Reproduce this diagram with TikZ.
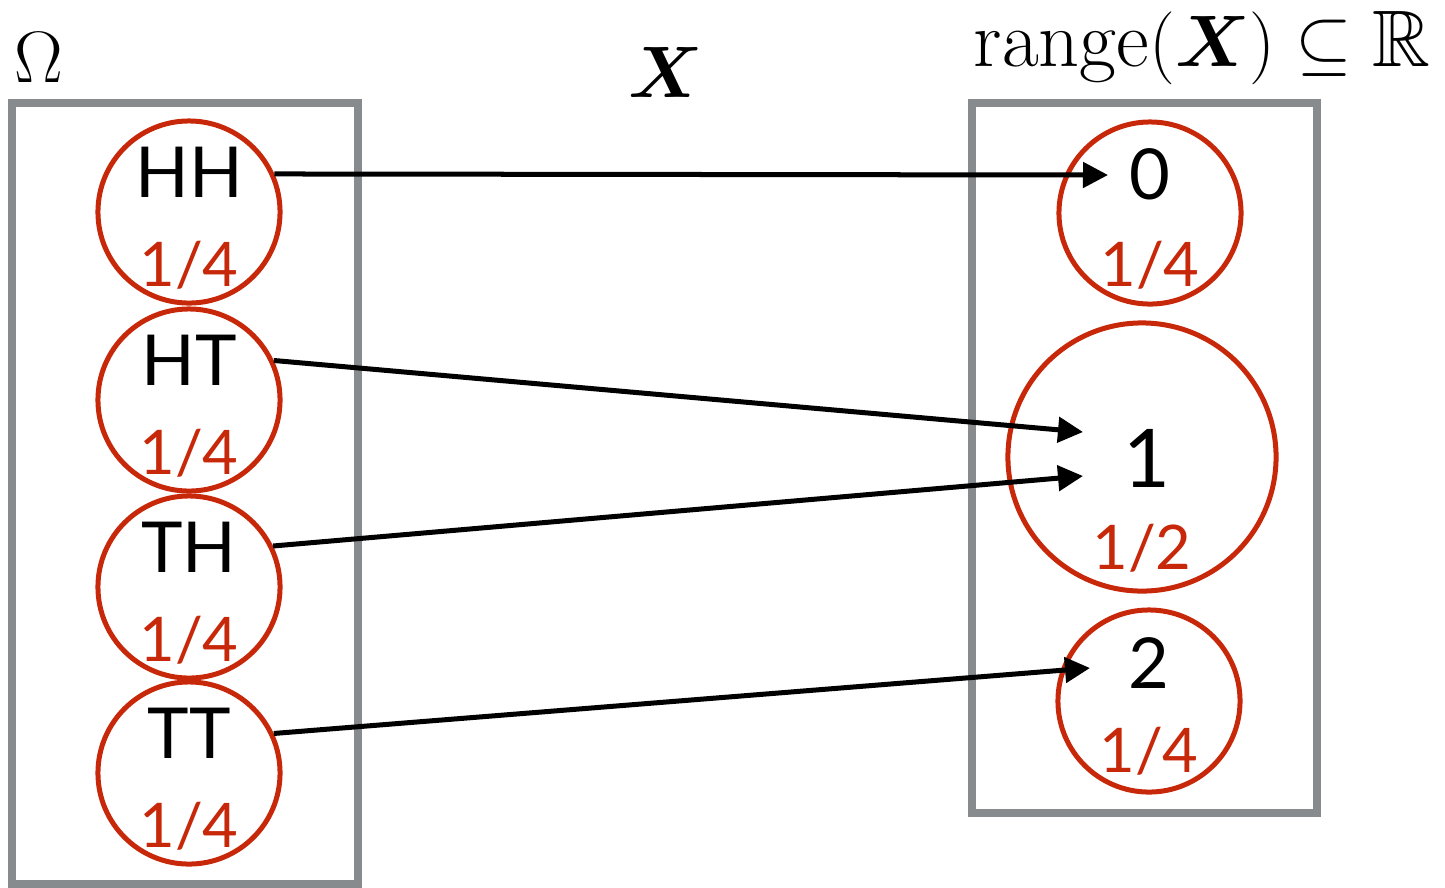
\documentclass[tikz,border=0pt]{standalone}
\usepackage{amsmath,amssymb}
\usepackage{fontspec}
\newfontfamily\gill{Lato}
\usepackage{tikz}
\usetikzlibrary{arrows.meta}
\usetikzlibrary{positioning}

\definecolor{boxgray}{RGB}{136,139,142}
\definecolor{probred}{RGB}{200,40,10}

\begin{document}
\begin{tikzpicture}[
  x=0.01cm, y=-0.01cm,
  setbox/.style={draw=boxgray,line width=0.08cm},
  outcome/.style={circle,draw=probred,line width=0.05cm,minimum size=1.82cm,inner sep=0pt},
  val/.style={inner sep=0pt,font=\gill\fontsize{20}{24}\selectfont},
  prob/.style={inner sep=0pt,text=probred,font=\gill\fontsize{17.5}{21}\selectfont},
  maps/.style={line width=0.05cm,-{Triangle[length=0.25cm,width=0.25cm]}},
  mathlab/.style={inner sep=0pt,font=\fontsize{22}{26}\selectfont}
]
\useasboundingbox (0,0) rectangle (1445,887);

% the two sets
\draw[setbox] (12,103) rectangle (358,884);
\draw[setbox] (972,103) rectangle (1317,813);
\node[mathlab,anchor=base west] (omega) at (14,82) {$\Omega$};
\node[mathlab] (rv) at (666,72) {$\boldsymbol{X}$};
\node[mathlab,font=\fontsize{22.8}{27}\selectfont,anchor=base west] (range) at (973,66) {$\operatorname{range}(\boldsymbol{X})\subseteq\mathbb{R}$};

% sample space
\node[outcome] (hh) at (189,212) {};
\node[val] (hhv) at ([yshift=0.4cm]hh.center) {HH};
\node[prob] (hhp) at ([yshift=-0.53cm]hh.center) {1/4};
\node[outcome] (ht) at (189,400) {};
\node[val] (htv) at ([yshift=0.4cm]ht.center) {HT};
\node[prob] (htp) at ([yshift=-0.53cm]ht.center) {1/4};
\node[outcome] (th) at (189,587) {};
\node[val] (thv) at ([yshift=0.4cm]th.center) {TH};
\node[prob] (thp) at ([yshift=-0.53cm]th.center) {1/4};
\node[outcome] (tt) at (189,773) {};
\node[val] (ttv) at ([yshift=0.4cm]tt.center) {TT};
\node[prob] (ttp) at ([yshift=-0.53cm]tt.center) {1/4};

% values of X
\node[outcome] (zero) at (1150,213) {};
\node[val] (zerov) at ([yshift=0.39cm]zero.center) {0};
\node[prob] (zerop) at ([yshift=-0.52cm]zero.center) {1/4};
\node[outcome,minimum size=2.68cm] (one) at (1142,457) {};
\node[val,font=\gill\fontsize{23}{27}\selectfont] (onev) at (1147,458) {1};
\node[prob] (onep) at ([yshift=-0.91cm]one.center) {1/2};
\node[outcome] (two) at (1149,701) {};
\node[val] (twov) at ([yshift=0.38cm]two.center) {2};
\node[prob] (twop) at ([yshift=-0.5cm]two.center) {1/4};

\coordinate (to0) at (1108,175);
\coordinate (to1a) at (1083,432);
\coordinate (to1b) at (1083,476);
\coordinate (to2) at (1090,668);

\draw[maps] (hh.24) -- (to0);
\draw[maps] (ht.25) -- (to1a);
\draw[maps] (th.26) -- (to1b);
\draw[maps] (tt.25) -- (to2);
\end{tikzpicture}
\end{document}
